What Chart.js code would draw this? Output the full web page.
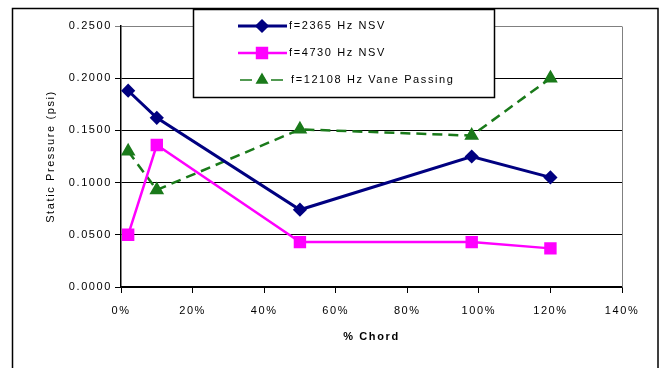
<!DOCTYPE html>
<html>
<head>
<meta charset="utf-8">
<script src="https://cdn.jsdelivr.net/npm/chart.js@4/dist/chart.umd.min.js"></script>
<style>
  body { margin: 0; background: #fff; }
  #wrap { width: 660px; height: 368px; }
</style>
</head>
<body>
<div id="wrap"><canvas id="pressureChart" width="660" height="368"></canvas></div>
<script>
// values
const chordPct = [2, 10, 50, 98, 120];
const nsv2365 = [0.188, 0.162, 0.074, 0.125, 0.105];
const nsv4730 = [0.050, 0.136, 0.043, 0.043, 0.037];
const vane12108 = [0.130, 0.093, 0.151, 0.145, 0.200];
const seriesLabels = ['f=2365 Hz NSV', 'f=4730 Hz NSV', 'f=12108 Hz Vane Passing'];
const xTicks = [0, 20, 40, 60, 80, 100, 120, 140];
const yTicks = [0, 0.05, 0.1, 0.15, 0.2, 0.25];

const FONT = '"Liberation Sans", Arial, sans-serif';

function toPoints(vals) {
  return chordPct.map((x, i) => ({ x: x, y: vals[i] }));
}

// the Excel text is spaced out a bit; canvas size reset clears this, so set it per update
const spacingPlugin = {
  id: 'spacing',
  beforeUpdate(chart) { chart.ctx.letterSpacing = '1.6px'; },
  beforeDraw(chart) { chart.ctx.letterSpacing = '1.6px'; }
};

// outer frame + grey plot border on the right
const framePlugin = {
  id: 'frame',
  beforeDraw(chart) {
    const ctx = chart.ctx;
    ctx.save();
    ctx.fillStyle = '#fff';
    ctx.fillRect(0, 0, chart.width, chart.height);
    ctx.strokeStyle = '#000';
    ctx.lineWidth = 1.5;
    ctx.strokeRect(12.5, 8.5, 645.5, 370);
    ctx.restore();
  },
  afterDatasetsDraw(chart) {
    const a = chart.chartArea;
    const ctx = chart.ctx;
    ctx.save();
    ctx.strokeStyle = '#808080';
    ctx.lineWidth = 1;
    ctx.beginPath();
    ctx.moveTo(a.right + 0.5, a.bottom);
    ctx.lineTo(a.right + 0.5, a.top + 0.5);
    ctx.stroke();
    ctx.restore();
  }
};

// Excel style legend box inside the plot
const legendPlugin = {
  id: 'boxLegend',
  afterDraw(chart) {
    const ctx = chart.ctx;
    const box = { x: 193, y: 9, w: 301, h: 88 };
    const rowsY = [26, 53, 80];
    ctx.save();
    ctx.fillStyle = '#fff';
    ctx.fillRect(box.x, box.y, box.w, box.h);
    ctx.strokeStyle = '#000';
    ctx.lineWidth = 1.5;
    ctx.strokeRect(box.x + 0.5, box.y + 0.5, box.w, box.h);
    chart.data.datasets.forEach((ds, i) => {
      const y = rowsY[i];
      ctx.strokeStyle = ds.borderColor;
      ctx.lineWidth = i === 2 ? 1.5 : ds.borderWidth;
      ctx.setLineDash([]);
      ctx.beginPath();
      if (i === 2) {
        ctx.moveTo(240, y); ctx.lineTo(252, y);
        ctx.moveTo(271, y); ctx.lineTo(283, y);
      } else {
        ctx.moveTo(238, y); ctx.lineTo(287, y);
      }
      ctx.stroke();
      Chart.helpers.drawPoint(ctx, {
        pointStyle: ds.pointStyle,
        radius: ds.pointRadius,
        borderWidth: 1
      }, 262, y);
      ctx.fillStyle = ds.pointBackgroundColor;
      ctx.fill();
      ctx.fillStyle = '#000';
      ctx.font = '11px ' + FONT;
      ctx.textBaseline = 'middle';
      ctx.fillText(ds.label, i === 2 ? 291 : 289, y);
    });
    ctx.restore();
  }
};

const ctx = document.getElementById('pressureChart').getContext('2d');
new Chart(ctx, {
  type: 'scatter',
  data: {
    datasets: [
      {
        label: seriesLabels[0],
        data: toPoints(nsv2365),
        showLine: true,
        borderColor: '#000080',
        backgroundColor: '#000080',
        pointBackgroundColor: '#000080',
        pointBorderColor: '#000080',
        borderWidth: 3,
        pointStyle: 'rectRot',
        pointRadius: 5
      },
      {
        label: seriesLabels[1],
        data: toPoints(nsv4730),
        showLine: true,
        borderColor: '#ff00ff',
        backgroundColor: '#ff00ff',
        pointBackgroundColor: '#ff00ff',
        pointBorderColor: '#ff00ff',
        borderWidth: 2.5,
        pointStyle: 'rect',
        pointRadius: 7
      },
      {
        label: seriesLabels[2],
        data: toPoints(vane12108),
        showLine: true,
        borderColor: '#1a7a1a',
        backgroundColor: '#1a7a1a',
        pointBackgroundColor: '#1a7a1a',
        pointBorderColor: '#1a7a1a',
        borderWidth: 2.5,
        borderDash: [10, 6],
        pointStyle: 'triangle',
        pointRadius: 6
      }
    ]
  },
  options: {
    responsive: false,
    animation: false,
    events: [],
    layout: { padding: { left: 12, right: 38, top: 26, bottom: 0 } },
    plugins: {
      legend: { display: false },
      tooltip: { enabled: false }
    },
    scales: {
      x: {
        type: 'linear',
        min: 0,
        max: 140,
        afterFit(scale) { scale.height = 81; },
        afterBuildTicks(scale) { scale.ticks = xTicks.map(v => ({ value: v })); },
        border: { color: '#000', width: 1.5 },
        grid: { drawOnChartArea: false, color: '#000', tickLength: 6, lineWidth: 1 },
        ticks: {
          color: '#000',
          font: { family: FONT, size: 11 },
          padding: 11,
          callback: v => v + '%'
        },
        title: {
          display: true,
          text: '% Chord',
          color: '#000',
          font: { family: FONT, size: 11, weight: 'bold' },
          padding: { top: 0, bottom: 24 }
        }
      },
      y: {
        type: 'linear',
        min: 0,
        max: 0.25,
        afterFit(scale) { scale.width = 109; },
        afterBuildTicks(scale) { scale.ticks = yTicks.map(v => ({ value: v })); },
        border: { color: '#000', width: 1.5 },
        grid: {
          color: c => (c.tick && c.tick.value >= 0.25 ? '#808080' : '#000'),
          tickLength: 6,
          lineWidth: 1
        },
        ticks: {
          color: '#000',
          font: { family: FONT, size: 11 },
          padding: 3,
          callback: v => v.toFixed(4)
        },
        title: {
          display: true,
          text: 'Static Pressure (psi)',
          color: '#000',
          font: { family: FONT, size: 11 },
          padding: { top: 32, bottom: 0 }
        }
      }
    }
  },
  plugins: [spacingPlugin, framePlugin, legendPlugin]
});
</script>
</body>
</html>
